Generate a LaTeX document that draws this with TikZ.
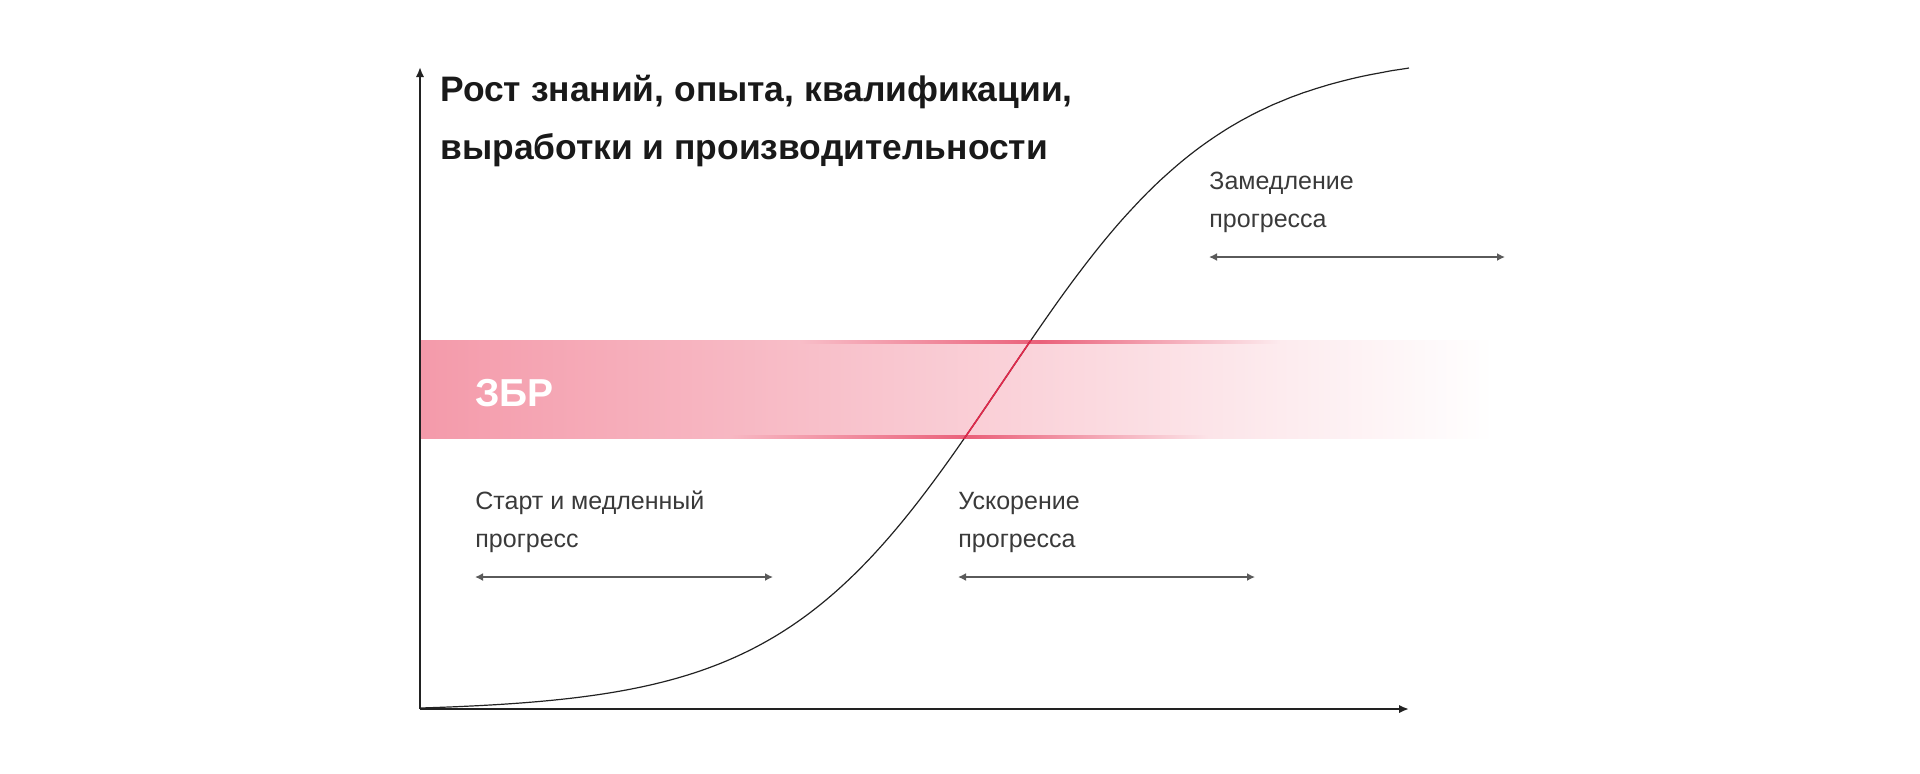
\documentclass[tikz,border=0pt]{standalone}
\usepackage{fontspec}
\setmainfont{Liberation Sans}
\usetikzlibrary{arrows.meta,positioning}

\definecolor{axisgray}{HTML}{222222}
\definecolor{textgray}{HTML}{3A3A3A}
\definecolor{spangray}{HTML}{5A5A5A}
\definecolor{bandpink}{HTML}{F49AAA}
\definecolor{curvered}{HTML}{E0284A}

\begin{document}
\begin{tikzpicture}[
    % one unit is one pixel of the target, y runs downwards
    x=0.5pt,
    y=-0.5pt,
    declare function={
        sig(\t)=708-640*(1/(1+exp(-0.009*(\t-1003)))-0.005236)/0.96953;
    }
]
    % --- Style Definitions ---
    \tikzstyle{axis} = [draw=axisgray, line width=1pt, -{Latex[length=5pt,width=4.2pt]}]
    \tikzstyle{span} = [draw=spangray, line width=1.1pt, {Latex[length=4pt,width=4pt]}-{Latex[length=4pt,width=4pt]}]
    \tikzstyle{heading} = [anchor=base west, inner sep=0pt, text=black!90, font=\fontsize{17.7}{21}\selectfont\bfseries]
    \tikzstyle{phase} = [anchor=base west, inner sep=0pt, text=textgray, font=\fontsize{12.5}{15}\selectfont]
    \tikzstyle{bandlabel} = [anchor=base west, inner sep=0pt, text=white, font=\fontsize{19.5}{22}\selectfont\bfseries]

    \useasboundingbox (0,0) rectangle (1920,773);

    % --- Band ---
    % The zone fades from pink on the left to white on the right.
    \shade[left color=bandpink, right color=white] (420,340) rectangle (1494,438);
    % red glow along the band edges where the curve goes through
    % (middle color has to come last, the side colours reset it)
    \shade[left color=bandpink!65!white, right color=bandpink!20!white, middle color=curvered!50!bandpink] (800,340) rectangle (1280,343);
    \shade[left color=bandpink!71!white, right color=bandpink!26!white, middle color=curvered!50!bandpink] (730,435) rectangle (1210,438);

    % --- Growth Curve ---
    \draw[axisgray, line width=0.6pt] plot[domain=420:1409, samples=160, smooth] (\x,{sig(\x)});
    \begin{scope}
        \clip (420,340) rectangle (1494,438);
        \draw[curvered, line width=0.8pt] plot[domain=900:1100, samples=60, smooth] (\x,{sig(\x)});
    \end{scope}

    % --- Axes ---
    \coordinate (origin) at (420,709);
    \coordinate (ytip) at (420,67);
    \coordinate (xtip) at (1409,709);
    \draw[axis] (origin) -- (ytip);
    \draw[axis] (origin) -- (xtip);

    % --- Labels ---
    \node[heading] (title1) at (440,101) {Рост знаний, опыта, квалификации,};
    \node[heading] (title2) at (440,159) {выработки и производительности};
    \node[bandlabel] (zbr) at (475,406) {ЗБР};

    \node[phase] (slow1) at (475,509) {Старт и медленный};
    \node[phase] (slow2) at (475,547) {прогресс};
    \node[phase] (fast1) at (958,509) {Ускорение};
    \node[phase] (fast2) at (958,547) {прогресса};
    \node[phase] (late1) at (1209,189) {Замедление};
    \node[phase] (late2) at (1209,227) {прогресса};

    % --- Phase Spans ---
    \coordinate (slowL) at (475,577);
    \coordinate (slowR) at (773,577);
    \coordinate (fastL) at (958,577);
    \coordinate (fastR) at (1255,577);
    \coordinate (lateL) at (1209,257);
    \coordinate (lateR) at (1505,257);
    \draw[span] (slowL) -- (slowR);
    \draw[span] (fastL) -- (fastR);
    \draw[span] (lateL) -- (lateR);
\end{tikzpicture}
\end{document}
